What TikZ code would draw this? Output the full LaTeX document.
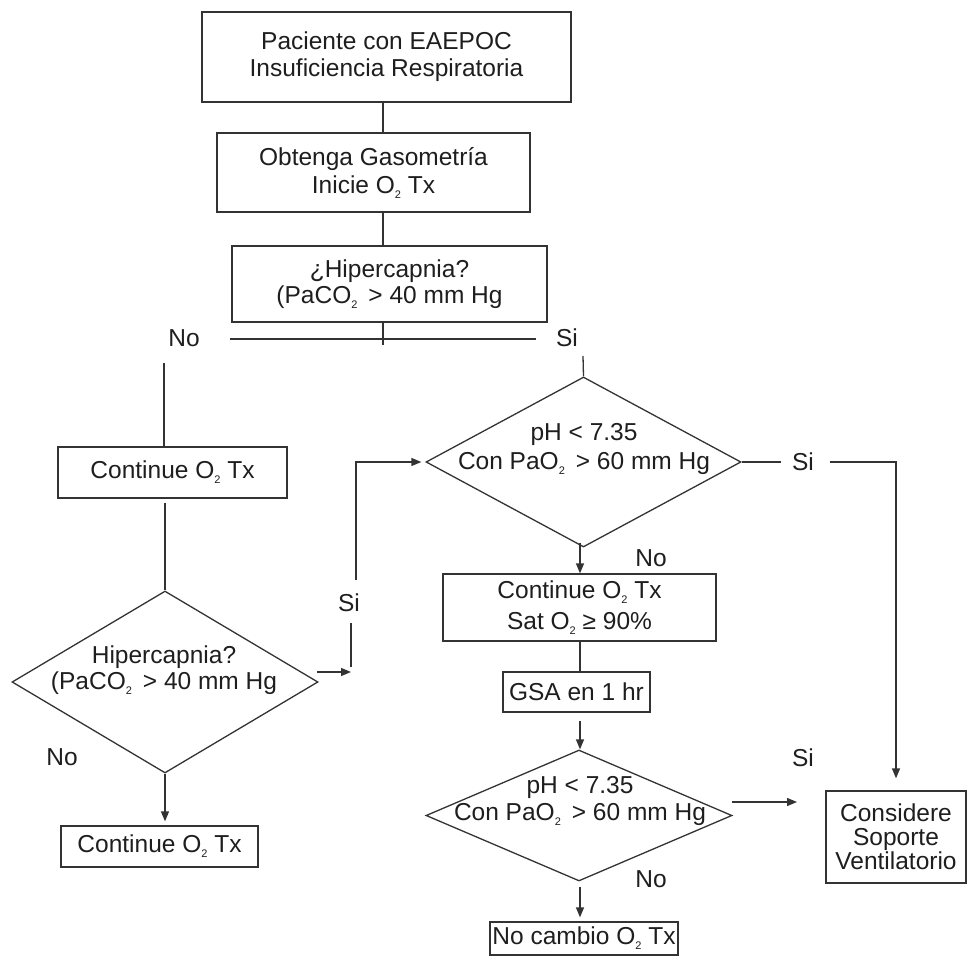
\documentclass[tikz,border=0pt]{standalone}
\usepackage{fontspec}
\setmainfont{Liberation Sans}
\usetikzlibrary{shapes.geometric,arrows.meta}
\newcommand\subtwo{\raisebox{-5pt}{\fontsize{11}{11}\selectfont 2}}
\definecolor{ink}{HTML}{1E1E1E}
\definecolor{linec}{HTML}{333333}
\begin{document}
\begin{tikzpicture}[x=1pt,y=-1pt,
  line width=1.3pt,
  every node/.style={text=ink},
  box/.style={draw=linec, line width=1.3pt, inner sep=0pt, align=center},
  dia/.style={draw=linec, line width=1.3pt, diamond, inner sep=0pt},
  txt/.style={inner sep=0pt, align=center},
  lbl/.style={inner sep=0pt, font=\fontsize{24.5}{27}\selectfont},
  conn/.style={draw=linec, line width=1.3pt},
  arr/.style={conn, -{Triangle[length=10pt,width=8pt]}}
]
\useasboundingbox (0,0) rectangle (969,957);

% nodes
\node[box, minimum width=369pt, minimum height=90pt, font=\fontsize{24.5}{27}\selectfont] (b1) at (386.5,57)
  {Paciente con EAEPOC\\Insuficiencia Respiratoria};
\node[box, minimum width=313pt, minimum height=79pt, font=\fontsize{24.5}{28}\selectfont] (b2) at (373.5,172.5)
  {Obtenga Gasometría\\Inicie O\subtwo\ Tx};
\node[box, minimum width=315pt, minimum height=76pt, font=\fontsize{24.5}{26}\selectfont] (b3) at (389.5,284)
  {¿Hipercapnia?\\(PaCO\subtwo\hspace{11pt}> 40 mm Hg};

\node[box, minimum width=229pt, minimum height=51pt, font=\fontsize{24.5}{27}\selectfont] (c1) at (172.5,472.5)
  {Continue O\subtwo\ Tx};
\node[dia, minimum width=306pt, minimum height=182pt] (dl) at (165,682) {};
\node[txt, font=\fontsize{24.5}{26}\selectfont] (dlt) at (164,670)
  {Hipercapnia?\\(PaCO\subtwo\hspace{11pt}> 40 mm Hg};
\node[box, minimum width=197pt, minimum height=41pt, font=\fontsize{24.5}{27}\selectfont] (c2) at (159.5,846.5)
  {Continue O\subtwo\ Tx};

\node[dia, minimum width=315pt, minimum height=170pt] (d1) at (583.5,462) {};
\node[txt, font=\fontsize{24.5}{29}\selectfont] (d1t) at (584,449)
  {pH < 7.35\\Con PaO\subtwo\hspace{11pt}> 60 mm Hg};
\node[box, minimum width=273pt, minimum height=67pt, font=\fontsize{24.5}{31}\selectfont] (s1) at (579.5,607.5)
  {Continue O\subtwo\ Tx\\Sat O\subtwo\ ≥ 90\%};
\node[box, minimum width=147pt, minimum height=40pt, font=\fontsize{24.5}{27}\selectfont] (g) at (576.5,692)
  {GSA en 1 hr};
\node[dia, minimum width=306pt, minimum height=131pt] (d2) at (579,815.5) {};
\node[txt, font=\fontsize{24.5}{27}\selectfont] (d2t) at (580,801)
  {pH < 7.35\\Con PaO\subtwo\hspace{11pt}> 60 mm Hg};
\node[box, minimum width=188pt, minimum height=33pt, font=\fontsize{24.5}{27}\selectfont] (nc) at (584,938.5)
  {No cambio O\subtwo\ Tx};
\node[box, minimum width=140pt, minimum height=92pt, font=\fontsize{24.5}{24}\selectfont] (cs) at (896,837)
  {Considere\\Soporte\\Ventilatorio};

% labels
\node[lbl] (lno1) at (184,338) {No};
\node[lbl] (lsi1) at (567,338) {Si};
\node[lbl] (lsi2) at (349,603) {Si};
\node[lbl] (lno2) at (62,757) {No};
\node[lbl] (lsi3) at (803,462) {Si};
\node[lbl] (lno3) at (651,558) {No};
\node[lbl] (lsi4) at (803,758) {Si};
\node[lbl] (lno4) at (651,879) {No};

% helper coordinates
\coordinate (sp) at (383,0);
\coordinate (hx) at (383,345);
\coordinate (hl) at (230,339);
\coordinate (hr) at (536,339);
\coordinate (lv) at (164,363);
\coordinate (rv) at (583,356);
\coordinate (a1) at (317,672);
\coordinate (a2) at (351,672);
\coordinate (v0) at (351,667);
\coordinate (v1) at (351,623);
\coordinate (v2) at (356,580);
\coordinate (r1) at (781,462);
\coordinate (r2) at (830,462);
\coordinate (ax) at (580,0);
\coordinate (b2a) at (732,802);
\coordinate (b2b) at (797,802);

% connectors
\draw[conn] (b1.south -| sp) -- (b2.north -| sp);
\draw[conn] (b2.south -| sp) -- (b3.north -| sp);
\draw[conn] (b3.south -| sp) -- (hx);
\draw[conn] (hl) -- (hr);
\draw[conn] (lv) -- (lv |- c1.north);
\draw[conn] (rv) -- (d1.north);
\draw[conn] (dl.north |- c1.south) ++(0,4) -- (dl.north);
\draw[arr] (dl.south) -- ([yshift=4pt]dl.south |- c2.north);
\draw[arr] (a1) -- (a2);
\draw[conn] (v0) -- (v1);
\draw[arr] (v2) |- ([xshift=-4pt]d1.west);
\draw[conn] (d1.east) -- (r1);
\draw[arr] (r2) -| ([yshift=12pt]cs.north);
\draw[arr] (ax |- d1.south) ++(0,-5) -- (ax |- s1.north);
\draw[conn] (ax |- s1.south) -- (ax |- g.north);
\draw[arr] (ax |- g.south) ++(0,8) -- (ax |- d2.north);
\draw[arr] (b2a) -- (b2b);
\draw[arr] (ax |- d2.south) ++(0,5) -- ([yshift=4pt]ax |- nc.north);
\end{tikzpicture}
\end{document}
